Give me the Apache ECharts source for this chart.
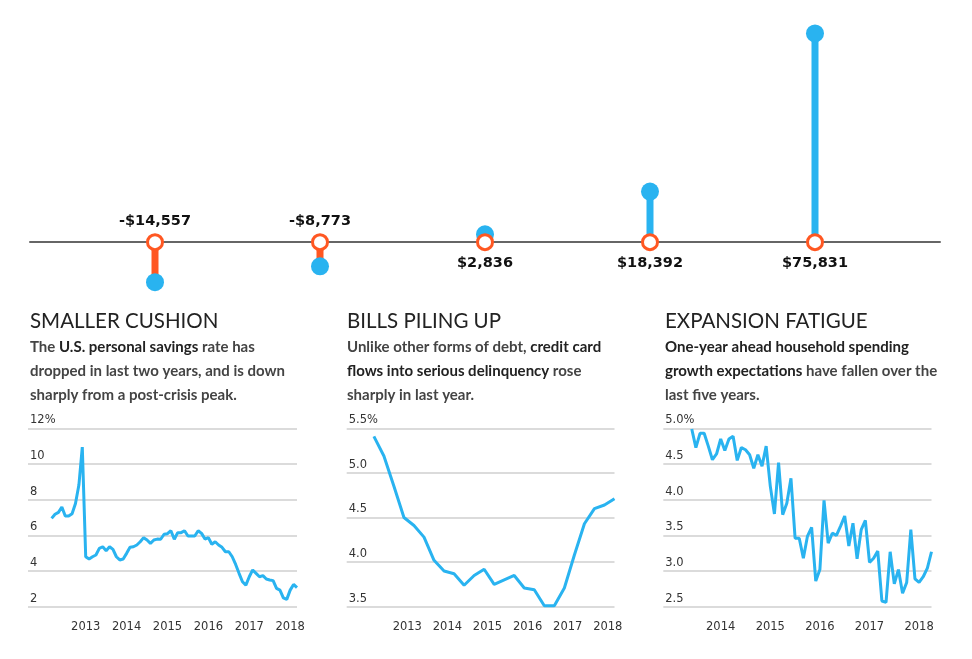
<!DOCTYPE html>
<html><head><meta charset="utf-8">
<script src="https://cdn.jsdelivr.net/npm/echarts@6/dist/echarts.min.js"></script>
<style>html,body{margin:0;padding:0;background:#fff}#c{width:972px;height:659px}</style>
</head><body><div id="c"></div>
<script>
// ---------- DATA ----------
const topValues = [-14557, -8773, 2836, 18392, 75831];

const savingsMonths = ['2012-03','2012-04','2012-05','2012-06','2012-07','2012-08','2012-09','2012-10','2012-11','2012-12',
'2013-01','2013-02','2013-03','2013-04','2013-05','2013-06','2013-07','2013-08','2013-09','2013-10','2013-11','2013-12',
'2014-01','2014-02','2014-03','2014-04','2014-05','2014-06','2014-07','2014-08','2014-09','2014-10','2014-11','2014-12',
'2015-01','2015-02','2015-03','2015-04','2015-05','2015-06','2015-07','2015-08','2015-09','2015-10','2015-11','2015-12',
'2016-01','2016-02','2016-03','2016-04','2016-05','2016-06','2016-07','2016-08','2016-09','2016-10','2016-11','2016-12',
'2017-01','2017-02','2017-03','2017-04','2017-05','2017-06','2017-07','2017-08','2017-09','2017-10','2017-11','2017-12',
'2018-01','2018-02','2018-03'];
const savingsValues = [6.95,7.18,7.29,7.59,7.08,7.08,7.21,7.79,8.82,10.95,
4.80,4.67,4.80,4.90,5.27,5.36,5.14,5.36,5.21,4.80,4.62,4.67,
4.99,5.33,5.36,5.46,5.64,5.87,5.74,5.55,5.74,5.79,5.78,6.06,
6.09,6.26,5.78,6.15,6.15,6.26,5.96,5.96,5.96,6.26,6.11,5.79,
5.87,5.50,5.64,5.46,5.33,5.08,5.08,4.80,4.37,3.87,3.40,3.21,
3.68,4.06,3.87,3.68,3.74,3.55,3.50,3.46,3.03,2.93,2.50,2.41,
2.93,3.25,3.07];

const delinqQuarters = ['2012-03','2012-06','2012-09','2012-12','2013-03','2013-06','2013-09','2013-12',
'2014-03','2014-06','2014-09','2014-12','2015-03','2015-06','2015-09','2015-12',
'2016-03','2016-06','2016-09','2016-12','2017-03','2017-06','2017-09','2017-12','2018-03'];
const delinqValues = [5.41,5.19,4.85,4.50,4.41,4.28,4.02,3.90,3.87,3.74,3.85,3.92,3.75,3.80,3.85,3.71,
3.69,3.51,3.51,3.71,4.08,4.43,4.60,4.64,4.71];

const spendMonths = ['2013-06','2013-07','2013-08','2013-09','2013-10','2013-11','2013-12',
'2014-01','2014-02','2014-03','2014-04','2014-05','2014-06','2014-07','2014-08','2014-09','2014-10','2014-11','2014-12',
'2015-01','2015-02','2015-03','2015-04','2015-05','2015-06','2015-07','2015-08','2015-09','2015-10','2015-11','2015-12',
'2016-01','2016-02','2016-03','2016-04','2016-05','2016-06','2016-07','2016-08','2016-09','2016-10','2016-11','2016-12',
'2017-01','2017-02','2017-03','2017-04','2017-05','2017-06','2017-07','2017-08','2017-09','2017-10','2017-11','2017-12',
'2018-01','2018-02','2018-03','2018-04'];
const spendValues = [4.99,4.73,4.93,4.93,4.75,4.56,4.64,4.85,4.69,4.85,4.89,4.55,4.73,4.70,4.63,4.44,4.63,4.47,4.75,
4.19,3.80,4.52,3.79,3.95,4.30,3.46,3.46,3.18,3.49,3.61,2.86,3.02,3.99,3.39,3.53,3.50,3.63,3.77,3.35,3.67,
3.17,3.58,3.71,3.12,3.18,3.28,2.58,2.56,3.27,2.82,3.02,2.69,2.84,3.58,2.89,2.84,2.92,3.04,3.27];

const yearTicks1 = [2013,2014,2015,2016,2017,2018];
const yearTicks2 = [2013,2014,2015,2016,2017,2018];
const yearTicks3 = [2014,2015,2016,2017,2018];

const headings = ['SMALLER CUSHION','BILLS PILING UP','EXPANSION FATIGUE'];
const bodies = [
  '{b|The }{k|U.S. personal savings}{b| rate has}\n{b|dropped in last two years, and is down}\n{b|sharply from a post-crisis peak.}',
  '{b|Unlike other forms of debt, }{k|credit card}\n{k|flows into serious delinquency}{b| rose}\n{b|sharply in last year.}',
  '{k|One-year ahead household spending}\n{k|growth expectations}{b| have fallen over the}\n{b|last five years.}'
];

// ---------- STYLE ----------
const BLUE = '#29b3f0', ORANGE = '#ff5722', FONT = 'Lato', AXFONT = 'DejaVu Sans';
const toYear = s => { const [y,m] = s.split('-').map(Number); return y + (m-1)/12; };
const fmtMoney = v => (v<0?'-$':'$') + Math.abs(v).toLocaleString('en-US');

const colX = [30, 347, 665];
const titles = [];
headings.forEach((h,i)=>{
  titles.push({text:h, left:colX[i], top:311, padding:0, textStyle:{fontFamily:FONT,fontSize:20.5,fontWeight:'normal',color:'#222'}});
  titles.push({text:bodies[i], left:colX[i], top:335, padding:0, textStyle:{rich:{
    b:{fontFamily:FONT,fontSize:15,color:'#444',lineHeight:24},
    k:{fontFamily:FONT,fontSize:15,color:'#222',fontWeight:'bold',lineHeight:24}}}});
});

function lineX(idx, min, max, ticks){
  return {type:'value', gridIndex:idx, min:min, max:max,
    axisLine:{show:false}, axisTick:{show:false}, splitLine:{show:false},
    axisLabel:{customValues:ticks, formatter:v=>String(Math.round(v)), fontFamily:AXFONT, fontSize:11.5, color:'#333', margin:14}};
}
function lineY(idx, min, max, interval, dec){
  return {type:'value', gridIndex:idx, min:min, max:max, interval:interval,
    axisLine:{show:false}, axisTick:{show:false},
    splitLine:{lineStyle:{color:'#cfcfcf', width:1.5}},
    axisLabel:{inside:true, verticalAlign:'bottom', margin:2, padding:[0,0,2,0], fontFamily:AXFONT, fontSize:11.5, color:'#333',
      formatter:v=>{ const s=v.toFixed(dec); return Math.abs(v-max)<1e-9 ? s+'%' : s; }}};
}
function lineSeries(idx, xs, vals){
  return {type:'line', xAxisIndex:idx, yAxisIndex:idx, data:xs.map((m,i)=>[toYear(m), vals[i]]),
    showSymbol:false, symbol:'none', lineStyle:{color:BLUE, width:3}, z:3};
}

const option = {
  animation:false,
  title: titles,
  grid:[
    {left:30, width:910, top:0, height:290},
    {left:28, width:269, top:428.3, height:178.4},
    {left:346.7, width:267.8, top:428.3, height:178.4},
    {left:663.3, width:268.2, top:428.3, height:178.4}
  ],
  xAxis:[
    {type:'value', gridIndex:0, min:-0.7576, max:4.7576, axisLine:{show:true, onZero:true, lineStyle:{color:'#666', width:2}},
      axisTick:{show:false}, axisLabel:{show:false}, splitLine:{show:false}},
    lineX(1, 2011.589, 2018.167, yearTicks1),
    lineX(2, 2011.489, 2018.167, yearTicks2),
    lineX(3, 2012.843, 2018.25, yearTicks3)
  ],
  yAxis:[
    {type:'value', gridIndex:0, min:-17400, max:88000, show:false, splitLine:{show:false}},
    lineY(1, 2, 12, 2, 0),
    lineY(2, 3.5, 5.5, 0.5, 1),
    lineY(3, 2.5, 5.0, 0.5, 1)
  ],
  series:[
    {type:'custom', xAxisIndex:0, yAxisIndex:0, z:2,
      data: topValues.map((v,i)=>[i,v]),
      renderItem:(params, api)=>{
        const i = api.value(0), v = api.value(1);
        const p0 = api.coord([i,0]), p1 = api.coord([i,v]);
        return {type:'rect', shape:{x:p0[0]-3.5, y:Math.min(p0[1],p1[1]), width:7, height:Math.abs(p1[1]-p0[1])},
          style:{fill: v<0 ? ORANGE : BLUE}};
      }},
    {type:'scatter', xAxisIndex:0, yAxisIndex:0, z:3, symbolSize:18, itemStyle:{color:BLUE, opacity:1},
      data: topValues.map((v,i)=>[i,v])},
    {type:'scatter', xAxisIndex:0, yAxisIndex:0, z:4, symbolSize:15,
      itemStyle:{color:'#fff', borderColor:ORANGE, borderWidth:3, opacity:1},
      data: topValues.map((v,i)=>({value:[i,0], label:{show:true, position: v<0?'top':'bottom', distance: v<0?4:5,
        formatter: ()=>fmtMoney(v), fontFamily:'DejaVu Sans', fontWeight:'bold', fontSize:14.5, color:'#111'}}))},
    lineSeries(1, savingsMonths, savingsValues),
    lineSeries(2, delinqQuarters, delinqValues),
    lineSeries(3, spendMonths, spendValues)
  ]
};
const chart = echarts.init(document.getElementById('c'), null, {renderer:'canvas'});
chart.setOption(option);
</script></body></html>
